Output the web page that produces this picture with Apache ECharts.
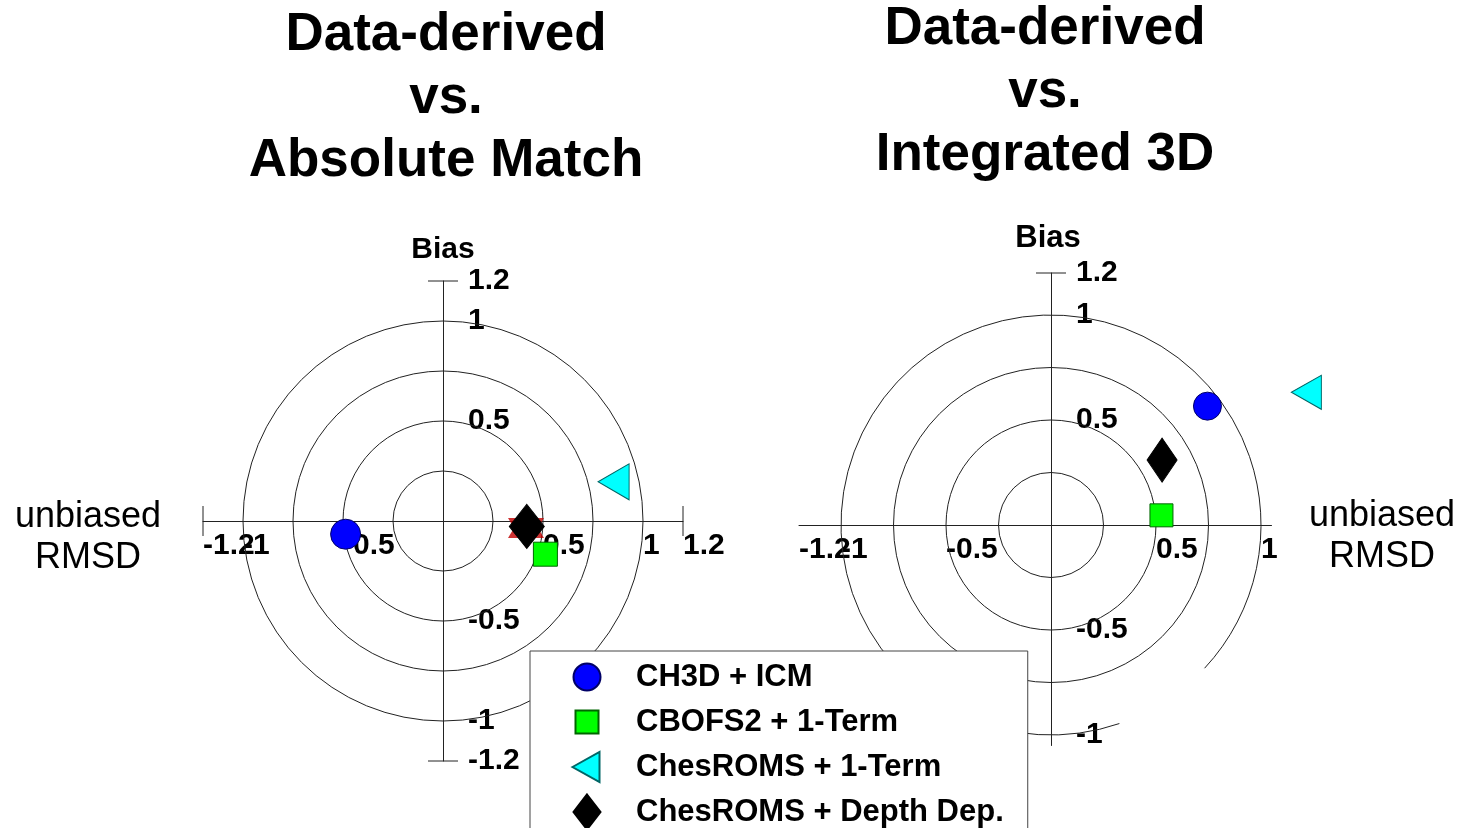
<!DOCTYPE html>
<html>
<head>
<meta charset="utf-8">
<script src="https://cdn.jsdelivr.net/npm/echarts@6/dist/echarts.min.js"></script>
<style>
html,body{margin:0;padding:0;background:#fff;}
#c{width:1462px;height:828px;}
</style>
</head>
<body>
<div id="c"></div>
<script>
// ---------- DATA ----------
const seriesNames = ['CH3D + ICM', 'CBOFS2 + 1-Term', 'ChesROMS + 1-Term', 'ChesROMS + Depth Dep.'];
// points as [unbiased RMSD, Bias]
const absMatchPoints = [
  [-0.487, -0.066],  // CH3D + ICM
  [0.512, -0.166],   // CBOFS2 + 1-Term
  [0.853, 0.196],    // ChesROMS + 1-Term
  [0.419, -0.027]    // ChesROMS + Depth Dep.
];
const absMatchHiddenPoint = [0.415, -0.035];
const integ3DPoints = [
  [0.745, 0.566],
  [0.526, 0.046],
  [1.216, 0.632],
  [0.529, 0.309]
];
const circleRadii = [0.25, 0.5, 0.75, 1];
const integ3DOuterGapDeg = [-71, -43];   // missing piece of the radius-1 circle (math angles)
// tick label values (order chosen so overlapping labels are all kept)
const leftXTicks = [-0.5, -1.2, -1, 0.5, 1, 1.2];
const leftYTicks = [-1.2, -1, -0.5, 0.5, 1, 1.2];
const rightXTicks = [-0.5, -1.2, -1, 0.5, 1];
const rightYTicks = [-1, -0.5, 0.5, 1, 1.2];
const leftCaps = [[-1.2, 0, 0], [1.2, 0, 0], [0, -1.2, 1], [0, 1.2, 1]];
const rightCaps = [[0, 1.2, 1]];
const leftRange = { xMin: -1.2, xMax: 1.2, yMin: -1.2, yMax: 1.2 };
const rightRange = { xMin: -1.2, xMax: 1.05, yMin: -1.05, yMax: 1.2 };

// ---------- STYLE ----------
const FONT = '"Liberation Sans", Arial, Helvetica, sans-serif';
const LINE = '#222';
const symbols = ['circle', 'rect', 'triangle', 'diamond'];
const colors = ['#0000ff', '#00ff00', '#00ffff', '#000000'];
const borders = ['#000066', '#006600', '#006666', '#000000'];
const leftSizes = [[30, 30], [24, 24], [36, 31], [35, 44]];
const rightSizes = [[28, 28], [23, 23], [34, 30], [30, 44]];
const rotations = [0, 0, 90, 0];
// legend icons drawn inside a 36x36 box (first two moveTo points fix the box)
const BOX = 'M0,0 M36,36 ';
const legendIcons = [
  'path://' + BOX + 'M4.5,18 A13.5,13.5 0 1,1 31.5,18 A13.5,13.5 0 1,1 4.5,18 Z',
  'path://' + BOX + 'M6.5,6.5 L29.5,6.5 L29.5,29.5 L6.5,29.5 Z',
  'path://' + BOX + 'M3.5,18 L30.5,3 L30.5,33 Z',
  'path://' + BOX + 'M18,0.5 L31.5,18 L18,35.5 L4.5,18 Z'
];

const gridsPx = [
  { left: 203, top: 281, width: 480, height: 480 },
  { left: 799, top: 273, width: 472.5, height: 472.5 }
];

const chart = echarts.init(document.getElementById('c'), null, { renderer: 'canvas' });

function axisPair(idx, range, xTicks, yTicks) {
  const g = gridsPx[idx];
  // move the axes to the origin (0,0) of their grid
  const xOffset = -g.height * (0 - range.yMin) / (range.yMax - range.yMin);
  const yOffset = -g.width * (range.xMax - 0) / (range.xMax - range.xMin);
  const labelStyle = {
    show: true, align: 'left', verticalAlign: 'middle', margin: 25,
    fontFamily: FONT, fontWeight: 'bold', fontSize: 30, color: '#000',
    hideOverlap: false, showMinLabel: true, showMaxLabel: true
  };
  const xa = {
    type: 'value', gridIndex: idx, min: range.xMin, max: range.xMax, position: 'bottom', offset: xOffset,
    axisLine: { show: true, onZero: false, lineStyle: { color: LINE, width: 1 } },
    axisTick: { show: false },
    splitLine: { show: false },
    axisLabel: Object.assign({ customValues: xTicks }, labelStyle)
  };
  const ya = {
    type: 'value', gridIndex: idx, min: range.yMin, max: range.yMax, position: 'right', offset: yOffset,
    axisLine: { show: true, onZero: false, lineStyle: { color: LINE, width: 1 } },
    axisTick: { show: false },
    splitLine: { show: false },
    axisLabel: Object.assign({ customValues: yTicks }, labelStyle)
  };
  return [xa, ya];
}
const [lx, ly] = axisPair(0, leftRange, leftXTicks, leftYTicks);
const [rx, ry] = axisPair(1, rightRange, rightXTicks, rightYTicks);

const leftCircleData = circleRadii.map(r => [r, 0, 360]);
const rightCircleData = circleRadii.map(r => r === 1 ? [r, integ3DOuterGapDeg[1], integ3DOuterGapDeg[0] + 360] : [r, 0, 360]);

function arcRender(params, api) {
  const c = api.coord([0, 0]);
  const r = api.size([api.value(0), 0])[0];
  const a0 = api.value(1), a1 = api.value(2); // math degrees ccw, a0 < a1
  return {
    type: 'arc',
    shape: { cx: c[0], cy: c[1], r: r, startAngle: -a1 * Math.PI / 180, endAngle: -a0 * Math.PI / 180, clockwise: true },
    style: { stroke: LINE, fill: null, lineWidth: 1 }
  };
}

function capSeries(idx, data) {
  return {
    type: 'custom', xAxisIndex: idx, yAxisIndex: idx, silent: true, clip: false, z: 2,
    data: data,
    renderItem: function (params, api) {
      const p = api.coord([api.value(0), api.value(1)]);
      const h = 15;
      const vertical = api.value(2) === 0;
      return {
        type: 'line',
        shape: vertical ? { x1: p[0], y1: p[1] - h, x2: p[0], y2: p[1] + h } : { x1: p[0] - h, y1: p[1], x2: p[0] + h, y2: p[1] },
        style: { stroke: LINE, lineWidth: 1 }
      };
    }
  };
}

function pointSeries(idx, points, sizes) {
  return points.map((p, i) => ({
    type: 'scatter', name: seriesNames[i], xAxisIndex: idx, yAxisIndex: idx, clip: false, z: 5,
    symbol: symbols[i], symbolSize: sizes[i], symbolRotate: rotations[i],
    itemStyle: { color: colors[i], borderColor: borders[i], borderWidth: 1, opacity: 1 },
    emphasis: { disabled: true },
    data: [p]
  }));
}

const series = [
  { type: 'custom', xAxisIndex: 0, yAxisIndex: 0, silent: true, clip: false, z: 1, data: leftCircleData, renderItem: arcRender },
  { type: 'custom', xAxisIndex: 1, yAxisIndex: 1, silent: true, clip: false, z: 1, data: rightCircleData, renderItem: arcRender },
  capSeries(0, leftCaps),
  capSeries(1, rightCaps),
  {
    type: 'scatter', name: 'hidden', xAxisIndex: 0, yAxisIndex: 0, clip: false, z: 4,
    symbol: 'path://M0,-10 L8.66,5 L-8.66,5 Z M0,10 L-8.66,-5 L8.66,-5 Z', symbolSize: [36, 40],
    itemStyle: { color: '#c00000' }, emphasis: { disabled: true },
    data: [absMatchHiddenPoint]
  }
].concat(pointSeries(0, absMatchPoints, leftSizes), pointSeries(1, integ3DPoints, rightSizes));

const titleBase = { textAlign: 'center', padding: 0 };
chart.setOption({
  animation: false,
  backgroundColor: '#fff',
  title: [
    Object.assign({ text: 'Data-derived\nvs.\nAbsolute Match', left: 446, top: 4,
      textStyle: { fontFamily: FONT, fontWeight: 'bold', fontSize: 53, lineHeight: 63, color: '#000' } }, titleBase),
    Object.assign({ text: 'Data-derived\nvs.\nIntegrated 3D', left: 1045, top: -2,
      textStyle: { fontFamily: FONT, fontWeight: 'bold', fontSize: 53, lineHeight: 63, color: '#000' } }, titleBase),
    Object.assign({ text: 'Bias', left: 443, top: 235,
      textStyle: { fontFamily: FONT, fontWeight: 'bold', fontSize: 30, lineHeight: 30, color: '#000' } }, titleBase),
    Object.assign({ text: 'Bias', left: 1048, top: 223,
      textStyle: { fontFamily: FONT, fontWeight: 'bold', fontSize: 31, lineHeight: 30, color: '#000' } }, titleBase),
    Object.assign({ text: 'unbiased\nRMSD', left: 88, top: 497,
      textStyle: { fontFamily: FONT, fontWeight: 'normal', fontSize: 36, lineHeight: 41, color: '#000' } }, titleBase),
    Object.assign({ text: 'unbiased\nRMSD', left: 1382, top: 496,
      textStyle: { fontFamily: FONT, fontWeight: 'normal', fontSize: 36, lineHeight: 41, color: '#000' } }, titleBase)
  ],
  grid: gridsPx.map(g => Object.assign({ containLabel: false, outerBoundsMode: 'none' }, g)),
  xAxis: [lx, rx],
  yAxis: [ly, ry],
  legend: {
    data: seriesNames.map((n, i) => ({ name: n, icon: legendIcons[i] })),
    orient: 'vertical',
    left: 530, top: 651, height: 210,
    padding: [7, 24, 20, 38],
    itemWidth: 36, itemHeight: 36, itemGap: 7,
    backgroundColor: '#fff', borderColor: '#444', borderWidth: 1, borderRadius: 0,
    selectedMode: false,
    textStyle: { fontFamily: FONT, fontWeight: 'bold', fontSize: 31, lineHeight: 36, color: '#000', padding: [0, 0, 0, 26] },
    z: 20
  },
  series: series
});
</script>
</body>
</html>
